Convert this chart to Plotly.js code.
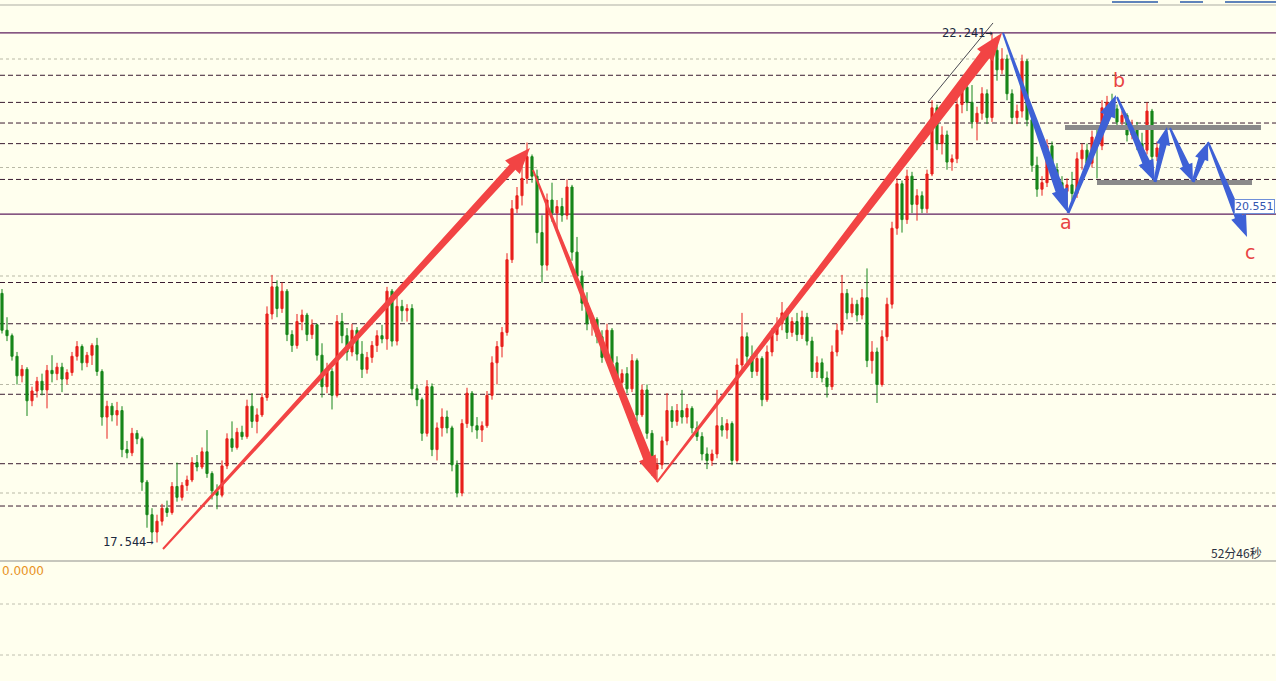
<!DOCTYPE html>
<html><head><meta charset="utf-8">
<script src="https://cdn.plot.ly/plotly-3.0.1.min.js"></script>
<style>html,body{margin:0;padding:0;background:#ffffee;overflow:hidden}#chart{width:1276px;height:681px}</style>
</head><body><div id="chart"></div>
<script>
// ---- price data (one candle per bar) ----
const barOpen = [
19.84,19.50,19.45,19.26,19.08,19.14,18.85,18.94,19.03,18.95,
19.13,19.10,19.16,19.05,19.11,19.26,19.35,19.20,19.27,19.36,
19.12,18.70,18.80,18.72,18.76,18.40,18.37,18.55,18.50,18.10,
17.80,17.64,17.74,17.86,17.82,18.06,17.96,18.07,18.12,18.28,
18.24,18.38,18.18,18.02,17.98,18.25,18.50,18.42,18.56,18.52,
18.80,18.66,18.72,18.88,19.65,19.90,19.70,19.86,19.46,19.36,
19.58,19.64,19.46,19.55,19.27,18.98,19.12,18.90,19.58,19.45,
19.30,19.50,19.28,19.14,19.25,19.36,19.45,19.42,19.86,19.40,
19.72,19.68,19.70,18.96,18.86,18.55,18.98,18.40,18.60,18.70,
18.60,18.26,18.00,18.64,18.92,18.62,18.58,18.62,18.90,19.20,
19.35,19.48,20.15,20.62,20.74,20.90,21.10,20.92,20.40,20.10,
20.70,20.58,20.64,20.56,20.82,20.22,20.00,19.75,19.56,19.60,
19.44,19.25,19.50,19.20,19.02,19.10,18.96,19.22,18.72,18.95,
18.55,18.22,18.26,18.48,18.76,18.66,18.76,18.70,18.78,18.60,
18.52,18.36,18.30,18.36,18.62,18.58,18.64,18.30,19.18,19.44,
19.26,19.12,19.24,18.86,19.30,19.46,19.56,19.66,19.48,19.58,
19.46,19.62,19.40,19.12,19.20,19.06,18.98,19.30,19.50,19.84,
19.66,19.74,19.64,19.80,19.22,19.30,19.00,19.44,19.74,20.44,
20.85,20.52,20.92,20.66,20.74,20.62,20.94,21.55,21.22,21.30,
21.05,21.08,21.58,21.74,21.60,21.42,21.50,21.68,21.46,22.08,
21.90,22.00,21.68,21.46,21.52,21.98,21.44,21.02,20.80,20.86,
21.20,20.98,20.86,20.78,20.84,20.76,21.08,21.16,21.04,21.28,
21.20,21.55,21.60,21.54,21.42,21.48,21.30,21.38,21.22,21.16,
21.52,21.10];
const barHigh = [
19.88,19.62,19.47,19.30,19.18,19.16,18.98,19.07,19.10,19.18,
19.27,19.20,19.20,19.14,19.30,19.40,19.37,19.30,19.38,19.43,
19.14,18.85,18.83,18.84,18.80,18.48,18.60,18.58,18.52,18.12,
17.86,17.80,17.90,17.93,18.10,18.28,18.10,18.16,18.33,18.35,
18.42,18.58,18.20,18.08,18.30,18.55,18.66,18.60,18.62,18.86,
18.92,18.78,18.92,19.72,20.01,19.96,19.94,19.88,19.50,19.65,
19.69,19.66,19.60,19.56,19.38,19.20,19.15,19.64,19.66,19.52,
19.56,19.53,19.40,19.30,19.40,19.50,19.55,19.90,19.88,19.82,
19.78,19.74,19.74,19.00,18.88,19.04,19.01,18.65,18.78,18.76,
18.62,18.30,18.68,18.97,18.94,18.70,18.66,18.94,19.26,19.40,
19.53,20.21,20.70,20.82,21.04,21.23,21.12,20.98,20.56,20.76,
20.86,20.70,20.72,20.89,20.84,20.36,20.05,19.85,19.66,19.62,
19.50,19.56,19.52,19.26,19.14,19.16,19.28,19.24,19.00,19.00,
18.58,18.32,18.52,18.92,18.80,18.82,18.95,18.82,18.80,18.66,
18.56,18.42,18.40,18.95,18.70,18.68,18.66,19.24,19.66,19.48,
19.36,19.30,19.26,19.36,19.52,19.62,19.76,19.70,19.62,19.66,
19.68,19.66,19.44,19.26,19.24,19.12,19.36,19.56,20.01,19.88,
19.80,19.78,19.88,20.07,19.40,19.34,19.50,19.80,20.50,20.90,
20.88,20.98,20.96,20.80,20.78,20.98,21.62,21.58,21.38,21.34,
21.12,21.65,21.82,21.80,21.76,21.56,21.74,21.72,22.241,22.20,
22.10,22.04,21.72,21.58,22.04,22.00,21.46,21.10,20.92,21.26,
21.24,21.04,20.92,20.90,20.96,21.14,21.22,21.22,21.34,21.36,
21.62,21.66,21.68,21.58,21.52,21.50,21.44,21.42,21.32,21.60,
21.54,21.24];
const barLow = [
19.47,19.40,19.22,19.00,19.02,18.71,18.80,18.88,18.90,18.78,
19.02,19.04,18.93,19.00,19.08,19.22,19.13,19.16,19.18,19.08,
18.62,18.50,18.66,18.62,18.33,18.32,18.34,18.45,18.02,17.68,
17.56,17.544,17.70,17.78,17.80,17.92,17.93,18.02,18.10,18.20,
18.22,18.14,17.94,17.85,17.96,18.22,18.38,18.40,18.49,18.50,
18.60,18.55,18.70,18.85,19.60,19.62,19.66,19.40,19.30,19.33,
19.50,19.40,19.42,19.22,18.88,18.92,18.77,18.88,19.38,19.22,
19.26,19.22,19.06,19.10,19.20,19.30,19.38,19.32,19.35,19.36,
19.58,19.58,18.90,18.80,18.48,18.52,18.34,18.30,18.52,18.55,
18.20,17.96,17.97,18.60,18.56,18.50,18.47,18.60,18.86,19.00,
19.25,19.45,20.12,20.58,20.65,20.85,20.86,20.30,19.94,20.05,
20.50,20.42,20.50,20.52,20.14,19.94,19.68,19.50,19.45,19.38,
19.20,19.22,19.16,18.98,18.96,18.92,18.93,18.66,18.70,18.50,
18.16,18.10,18.22,18.44,18.60,18.62,18.64,18.64,18.55,18.48,
18.30,18.22,18.25,18.32,18.52,18.50,18.26,18.28,19.12,19.20,
19.06,19.08,18.80,18.84,19.26,19.40,19.50,19.42,19.44,19.40,
19.42,19.36,19.06,19.06,19.02,18.88,18.95,19.26,19.46,19.60,
19.62,19.58,19.60,19.16,19.10,18.83,18.98,19.40,19.70,20.38,
20.40,20.48,20.58,20.51,20.58,20.58,20.92,21.16,21.12,20.98,
20.97,21.04,21.50,21.52,21.36,21.25,21.44,21.40,21.42,21.80,
21.86,21.62,21.40,21.40,21.46,21.38,20.96,20.73,20.74,20.82,
20.92,20.80,20.72,20.64,20.70,20.72,20.98,21.00,21.00,20.90,
21.16,21.46,21.48,21.36,21.38,21.24,21.26,21.16,21.10,21.12,
21.04,21.06];
const barClose = [
19.50,19.45,19.26,19.08,19.14,18.85,18.94,19.03,18.95,19.13,
19.10,19.16,19.05,19.11,19.26,19.35,19.20,19.27,19.36,19.12,
18.70,18.80,18.72,18.76,18.40,18.37,18.55,18.50,18.10,17.80,
17.64,17.74,17.86,17.82,18.06,17.96,18.07,18.12,18.28,18.24,
18.38,18.18,18.02,17.98,18.25,18.50,18.42,18.56,18.52,18.80,
18.66,18.72,18.88,19.65,19.90,19.70,19.86,19.46,19.36,19.58,
19.64,19.46,19.55,19.27,18.98,19.12,18.90,19.58,19.45,19.30,
19.50,19.28,19.14,19.25,19.36,19.45,19.42,19.86,19.40,19.72,
19.68,19.70,18.96,18.86,18.55,18.98,18.40,18.60,18.70,18.60,
18.26,18.00,18.64,18.92,18.62,18.58,18.62,18.90,19.20,19.35,
19.48,20.15,20.62,20.74,20.90,21.10,20.92,20.40,20.10,20.70,
20.58,20.64,20.56,20.82,20.22,20.00,19.75,19.56,19.60,19.44,
19.25,19.50,19.20,19.02,19.10,18.96,19.22,18.72,18.95,18.55,
18.22,18.26,18.48,18.76,18.66,18.76,18.70,18.78,18.60,18.52,
18.36,18.30,18.36,18.62,18.58,18.64,18.30,19.18,19.44,19.26,
19.12,19.24,18.86,19.30,19.46,19.56,19.66,19.48,19.58,19.46,
19.62,19.40,19.12,19.20,19.06,18.98,19.30,19.50,19.84,19.66,
19.74,19.64,19.80,19.22,19.30,19.00,19.44,19.74,20.44,20.85,
20.52,20.92,20.66,20.74,20.62,20.94,21.55,21.22,21.30,21.05,
21.08,21.58,21.74,21.60,21.42,21.50,21.68,21.46,22.08,21.90,
22.00,21.68,21.46,21.52,21.98,21.44,21.02,20.80,20.86,21.20,
20.98,20.86,20.78,20.84,20.76,21.08,21.16,21.04,21.28,21.20,
21.55,21.60,21.54,21.42,21.48,21.30,21.38,21.22,21.16,21.52,
21.10,21.18];
const barIndex = barOpen.map((_, i) => i);

// ---- reference levels ----
const keyLevels = [22.241, 20.571];
const dashLevels = [21.85, 21.60, 21.41, 21.22, 20.89, 19.94, 19.56, 18.91, 18.27, 17.88];
const gridLevels = [18, 19, 20, 21, 22];
const lowLabel = {x: 31, y: 17.544, text: '17.544'};
const highLabel = {x: 198, y: 22.241, text: '22.241'};
const lastLabel = '20.551';

// ---- drawn annotations (bar index, price) ----
const redArrows = [[32.2,17.484,105.6,21.18],[106.2,20.977,131,18.101],[131,18.101,200,22.240]];
const redArrowSize = [[2,8,20,26],[2,9,18,26],[2,11,20,28]];
const blueArrows = [[200.2,22.240,213.2,20.581],[213.2,20.581,222.8,21.668],[223,21.650,230.6,20.866],
  [230.6,20.866,233,21.373],[233.6,21.364,238.2,20.866],[238.2,20.866,241.2,21.235],[241.2,21.235,249,20.359]];
const blueArrowSize = [[2,9,17,24],[3,8,16,22],[2,8,16,22],[3,7,14,18],[2,7,14,18],[3,7,14,18],[2,8,16,22]];
const grayBars = [[212.6,251.8,21.369],[219,250,20.862]];
const waveLabels = [['a',212.8,20.498],['b',223.4,21.806],['c',249.6,20.221]];

const W = 1276, H = 681;
const X0 = -0.4, X1 = 254.8, Y0 = 17.3733, Y1 = 22.4977;
const TOP = 5, PH = 556;
const toPx = x => (x - X0) / (X1 - X0) * W;
const toPy = p => TOP + (Y1 - p) / (Y1 - Y0) * PH;
const fromPx = px => X0 + px / W * (X1 - X0);
const fromPy = py => Y1 - (py - TOP) / PH * (Y1 - Y0);

function arrowPath(a, s) {
  const x0 = toPx(a[0]), y0 = toPy(a[1]), x1 = toPx(a[2]), y1 = toPy(a[3]);
  const [w0, w1, hw, hl] = s;
  const dx = x1 - x0, dy = y1 - y0, L = Math.hypot(dx, dy);
  const ux = dx / L, uy = dy / L, nx = -uy, ny = ux;
  const bx = x1 - ux * hl, by = y1 - uy * hl;
  const pts = [
    [x0 + nx * w0 / 2, y0 + ny * w0 / 2],
    [bx + nx * w1 / 2, by + ny * w1 / 2],
    [bx + nx * hw / 2, by + ny * hw / 2],
    [x1, y1],
    [bx - nx * hw / 2, by - ny * hw / 2],
    [bx - nx * w1 / 2, by - ny * w1 / 2],
    [x0 - nx * w0 / 2, y0 - ny * w0 / 2]
  ];
  return 'M' + pts.map(p => fromPx(p[0]).toFixed(4) + ',' + fromPy(p[1]).toFixed(5)).join(' L') + ' Z';
}
const pap = py => (H - py) / H;

const shapes = [];
gridLevels.forEach(v => shapes.push({type:'line', xref:'paper', x0:0, x1:1, yref:'y', y0:v, y1:v, layer:'below',
  line:{color:'#b9b9a6', width:1, dash:'dot'}}));
dashLevels.forEach(v => shapes.push({type:'line', xref:'paper', x0:0, x1:1, yref:'y', y0:v, y1:v, layer:'below',
  line:{color:'#3a1c30', width:1, dash:'5px,3px'}}));
keyLevels.forEach(v => shapes.push({type:'line', xref:'paper', x0:0, x1:1, yref:'y', y0:v, y1:v, layer:'below',
  line:{color:'#5e1f5e', width:1.2}}));
// frame lines
shapes.push({type:'line', xref:'paper', yref:'paper', x0:0, x1:1, y0:pap(5), y1:pap(5), line:{color:'#c8c8bc', width:1.5}});
shapes.push({type:'line', xref:'paper', yref:'paper', x0:0, x1:1, y0:pap(561), y1:pap(561), line:{color:'#b4b4ac', width:1.5}});
[604, 655].forEach(py => shapes.push({type:'line', xref:'paper', yref:'paper', x0:0, x1:1, y0:pap(py), y1:pap(py),
  line:{color:'#c0c0b0', width:1, dash:'dot'}}));
// top-right toolbar fragments
[[1112,1158],[1180,1203],[1225,1276]].forEach(r => shapes.push({type:'line', xref:'paper', yref:'paper',
  x0:r[0]/W, x1:r[1]/W, y0:pap(2), y1:pap(2), line:{color:'#2a5aa8', width:1.5}}));
// thin black measuring line
shapes.push({type:'line', xref:'x', yref:'y', x0:185.2, y0:21.604, x1:198.2, y1:22.332, line:{color:'#1a1a2a', width:0.8}});
// gray bars
grayBars.forEach(g => shapes.push({type:'line', xref:'x', yref:'y', x0:g[0], x1:g[1], y0:g[2], y1:g[2],
  line:{color:'#8a8a8a', width:5}}));
redArrows.forEach((a, k) => shapes.push({type:'path', xref:'x', yref:'y', path:arrowPath(a, redArrowSize[k]),
  fillcolor:'#f24444', line:{width:0}}));
blueArrows.forEach((a, k) => shapes.push({type:'path', xref:'x', yref:'y', path:arrowPath(a, blueArrowSize[k]),
  fillcolor:'#3e61d6', line:{width:0}}));

const annotations = [];
const mono = {family:'DejaVu Sans Mono, monospace', size:12, color:'#1c2a40'};
annotations.push({x:lowLabel.x, y:lowLabel.y, xref:'x', yref:'y', text:lowLabel.text + '→', showarrow:false,
  xanchor:'right', yanchor:'middle', xshift:-1, font:mono});
annotations.push({x:highLabel.x, y:highLabel.y, xref:'x', yref:'y', text:highLabel.text + '→', showarrow:false,
  xanchor:'right', yanchor:'middle', xshift:3, font:mono});
annotations.push({x:1, xref:'paper', y:fromPy(207), yref:'y', text:lastLabel, showarrow:false, xanchor:'right', yanchor:'middle',
  bgcolor:'#ffffff', bordercolor:'#6f8fd8', borderwidth:1, borderpad:0, xshift:-1,
  font:{family:'DejaVu Sans, sans-serif', size:11, color:'#3456b0'}});
annotations.push({x:1264/W, xref:'paper', y:pap(552), yref:'paper', text:'52分46秒', showarrow:false,
  xanchor:'right', yanchor:'middle', font:{family:'Noto Sans CJK SC, sans-serif', size:12, color:'#2a3040'}});
annotations.push({x:0, xref:'paper', y:pap(571), yref:'paper', text:'0.0000', showarrow:false,
  xanchor:'left', yanchor:'middle', font:{family:'DejaVu Sans, sans-serif', size:12, color:'#e8921e'}});
waveLabels.forEach(w => annotations.push({x:w[1], y:w[2], xref:'x', yref:'y', text:w[0], showarrow:false,
  xanchor:'center', yanchor:'middle', font:{family:'DejaVu Sans, sans-serif', size:19, color:'#e84444'}}));

const trace = {
  type:'candlestick', x:barIndex, open:barOpen, high:barHigh, low:barLow, close:barClose,
  increasing:{line:{color:'#e8201c', width:1}, fillcolor:'#e8201c'},
  decreasing:{line:{color:'#17861a', width:1}, fillcolor:'#17861a'},
  whiskerwidth:0, hoverinfo:'skip', showlegend:false
};

const layout = {
  width:W, height:H, margin:{l:0, r:0, t:0, b:0, pad:0},
  paper_bgcolor:'#ffffee', plot_bgcolor:'#ffffee',
  boxgap:0.4, showlegend:false,
  xaxis:{range:[X0, X1], showgrid:false, zeroline:false, showticklabels:false, ticks:'', showline:false,
    rangeslider:{visible:false}, fixedrange:true},
  yaxis:{range:[Y0, Y1], domain:[120/H, 676/H], showgrid:false, zeroline:false, showticklabels:false, ticks:'',
    showline:false, fixedrange:true},
  shapes:shapes, annotations:annotations
};
Plotly.newPlot('chart', [trace], layout, {staticPlot:true, displayModeBar:false});
</script></body></html>
